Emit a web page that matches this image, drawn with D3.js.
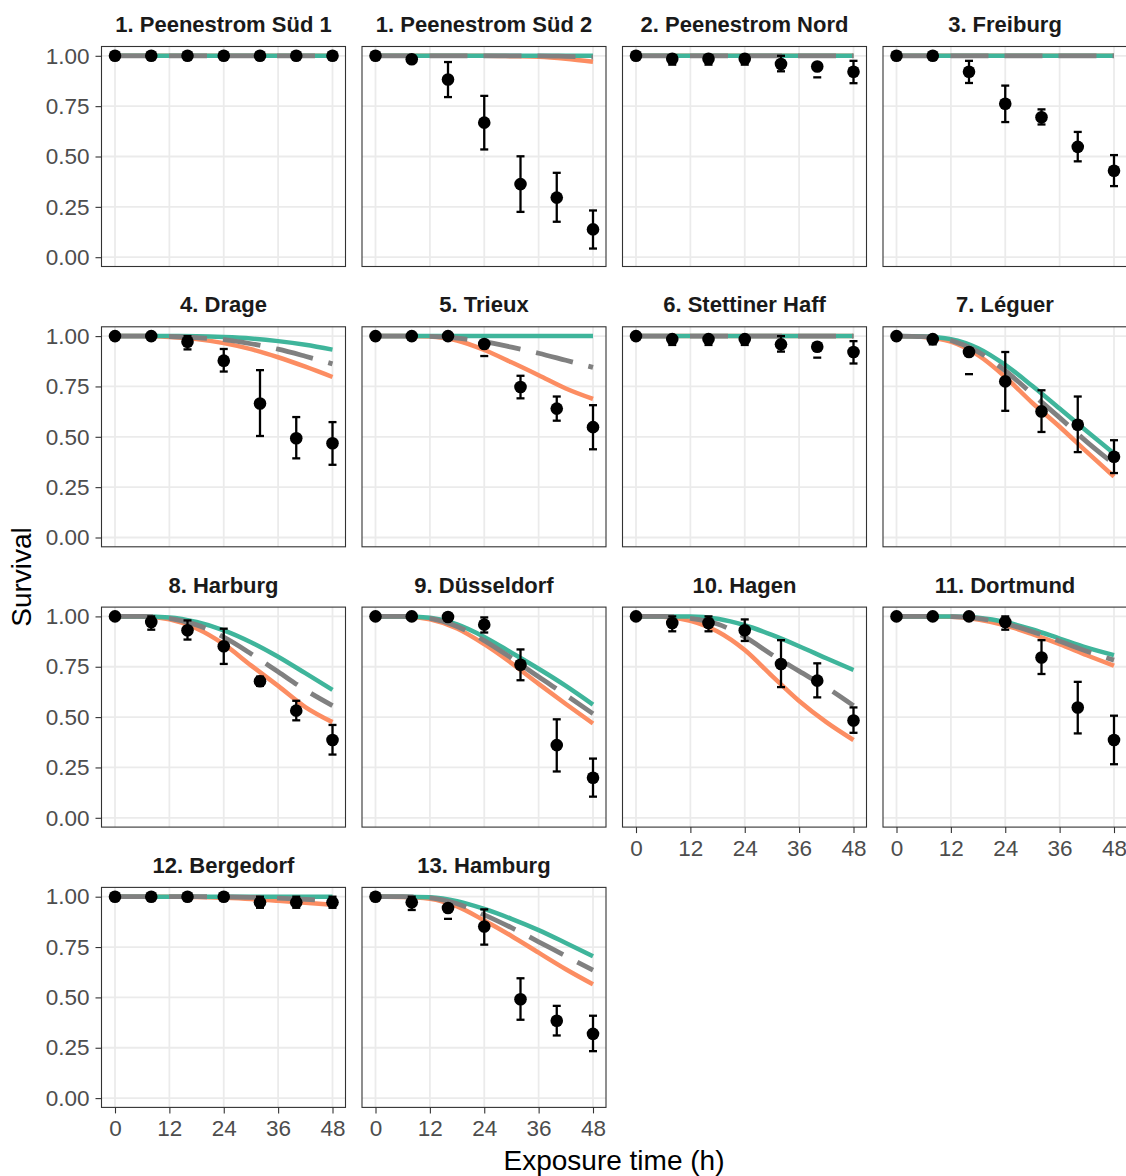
<!DOCTYPE html>
<html>
<head>
<meta charset="utf-8">
<script src="https://cdn.jsdelivr.net/npm/d3@7"></script>
<style>
  body { margin: 0; background: #fff; }
  svg { font-family: 'Liberation Sans', Arial, sans-serif; }
</style>
</head>
<body>
<svg width="1126" height="1176"></svg>
<script>
const panels = [
  '1. Peenestrom Süd 1', '1. Peenestrom Süd 2', '2. Peenestrom Nord', '3. Freiburg',
  '4. Drage', '5. Trieux', '6. Stettiner Haff', '7. Léguer',
  '8. Harburg', '9. Düsseldorf', '10. Hagen', '11. Dortmund',
  '12. Bergedorf', '13. Hamburg'
];

// observed survival (mean, lower, upper) at each sampling time
const times = [0, 8, 16, 24, 32, 40, 48];

const meanSurv = [
  [1, 1, 1, 1, 1, 1, 1],
  [1, 0.983, 0.882, 0.668, 0.363, 0.296, 0.138],
  [1, 0.985, 0.985, 0.985, 0.959, 0.947, 0.921],
  [1, 1, 0.921, 0.762, 0.695, 0.548, 0.429],
  [1, 1, 0.972, 0.878, 0.665, 0.493, 0.468],
  [1, 1, 1, 0.961, 0.747, 0.640, 0.548],
  [1, 0.985, 0.985, 0.985, 0.959, 0.947, 0.921],
  [1, 0.985, 0.921, 0.775, 0.626, 0.560, 0.401],
  [1, 0.972, 0.931, 0.852, 0.678, 0.532, 0.386],
  [1, 1, 0.997, 0.959, 0.760, 0.361, 0.199],
  [1, 0.967, 0.967, 0.931, 0.764, 0.681, 0.483],
  [1, 1, 1, 0.972, 0.796, 0.548, 0.386],
  [1, 1, 1, 1, 0.972, 0.972, 0.972],
  [1, 0.972, 0.944, 0.852, 0.491, 0.384, 0.319]
];

const lowSurv = [
  [null, null, null, null, null, null, null],
  [null, 0.965, 0.795, 0.535, 0.225, 0.176, 0.043],
  [null, 0.956, 0.956, 0.956, 0.923, 0.893, 0.864],
  [null, null, 0.865, 0.671, 0.659, 0.476, 0.353],
  [null, null, 0.934, 0.824, 0.504, 0.393, 0.361],
  [null, null, null, 0.901, 0.691, 0.580, 0.438],
  [null, 0.956, 0.956, 0.956, 0.923, 0.893, 0.864],
  [null, 0.959, 0.811, 0.629, 0.524, 0.424, 0.320],
  [null, 0.934, 0.885, 0.764, 0.655, 0.484, 0.314],
  [null, null, null, 0.920, 0.683, 0.230, 0.105],
  [null, 0.926, 0.926, 0.878, 0.649, 0.598, 0.422],
  [null, null, null, 0.934, 0.714, 0.419, 0.266],
  [null, null, null, null, 0.945, 0.945, 0.945],
  [null, 0.934, 0.890, 0.762, 0.389, 0.311, 0.233]
];

// null upper with a lower value -> only the lower cap shows
const highSurv = [
  [null, null, null, null, null, null, null],
  [null, 1, 0.969, 0.801, 0.501, 0.419, 0.232],
  [null, 1, 1, 1, 1, null, 0.975],
  [null, null, 0.975, 0.852, 0.734, 0.622, 0.507],
  [null, null, 1, 0.936, 0.831, 0.598, 0.573],
  [null, null, null, null, 0.803, 0.700, 0.657],
  [null, 1, 1, 1, 1, null, 0.975],
  [null, 1, null, 0.921, 0.731, 0.700, 0.483],
  [null, 1, 0.980, 0.939, 0.701, 0.581, 0.461],
  [null, null, null, 0.995, 0.836, 0.489, 0.294],
  [null, 1, 1, 0.985, 0.882, 0.767, 0.548],
  [null, null, null, 1, 0.882, 0.675, 0.507],
  [null, null, null, null, 1, 1, 1],
  [null, 1, null, 0.937, 0.595, 0.458, 0.409]
];

// model predictions
const curveTimes = [0, 6, 12, 18, 24, 30, 36, 42, 48];
const ones = [1, 1, 1, 1, 1, 1, 1, 1, 1];

const fitHigh = [
  ones, ones, ones, ones,
  [1, 1, 1, 0.999, 0.995, 0.988, 0.975, 0.957, 0.933],
  ones, ones,
  [1, 0.998, 0.985, 0.940, 0.857, 0.752, 0.640, 0.528, 0.417],
  [1, 1, 0.995, 0.972, 0.931, 0.872, 0.800, 0.718, 0.635],
  [1, 1, 0.993, 0.960, 0.898, 0.820, 0.740, 0.655, 0.562],
  [1, 1, 1, 0.988, 0.956, 0.908, 0.852, 0.792, 0.734],
  [1, 1, 1, 0.993, 0.972, 0.935, 0.890, 0.845, 0.808],
  ones,
  [1, 1, 0.997, 0.978, 0.939, 0.890, 0.834, 0.770, 0.704]
];

const fitMid = [
  ones,
  [1, 1, 1, 1, 1, 1, 1, 0.997, 0.993],
  ones, ones,
  [1, 1, 0.998, 0.992, 0.982, 0.962, 0.935, 0.900, 0.862],
  [1, 1, 0.999, 0.990, 0.972, 0.945, 0.915, 0.880, 0.845],
  ones,
  [1, 0.997, 0.978, 0.922, 0.828, 0.712, 0.595, 0.475, 0.365],
  [1, 1, 0.990, 0.958, 0.897, 0.815, 0.725, 0.635, 0.557],
  [1, 1, 0.990, 0.950, 0.880, 0.793, 0.700, 0.610, 0.517],
  [1, 1, 0.990, 0.962, 0.898, 0.810, 0.728, 0.648, 0.557],
  [1, 1, 0.999, 0.990, 0.964, 0.924, 0.877, 0.827, 0.783],
  [1, 1, 1, 1, 0.999, 0.997, 0.993, 0.987, 0.980],
  [1, 1, 0.994, 0.965, 0.910, 0.846, 0.776, 0.705, 0.635]
];

const fitLow = [
  ones,
  [1, 1, 1, 1, 1, 0.998, 0.995, 0.985, 0.970],
  ones, ones,
  [1, 1, 0.995, 0.985, 0.965, 0.935, 0.895, 0.848, 0.797],
  [1, 1, 0.998, 0.978, 0.931, 0.870, 0.806, 0.740, 0.688],
  ones,
  [1, 0.996, 0.972, 0.905, 0.797, 0.668, 0.550, 0.425, 0.302],
  [1, 0.999, 0.985, 0.940, 0.862, 0.757, 0.655, 0.550, 0.475],
  [1, 0.999, 0.985, 0.940, 0.862, 0.768, 0.665, 0.565, 0.468],
  [1, 0.998, 0.978, 0.925, 0.833, 0.705, 0.580, 0.475, 0.386],
  [1, 1, 0.998, 0.985, 0.956, 0.912, 0.862, 0.807, 0.755],
  [1, 1, 1, 0.999, 0.995, 0.989, 0.980, 0.970, 0.960],
  [1, 0.999, 0.990, 0.952, 0.882, 0.805, 0.722, 0.640, 0.565]
];

const xTicks = [0, 12, 24, 36, 48];
const yTicks = [0, 0.25, 0.5, 0.75, 1];

const svg = d3.select('svg'),
      panelW = 244,
      panelH = 220,
      colX = c => 101.5 + c * 260.5,
      rowY = r => 46.5 + r * 280.3;

const x = d3.scaleLinear().domain([0, 48]).range([13.5, panelW - 13]);
const y = d3.scaleLinear().domain([0, 1]).range([panelH - 9.3, 9.3]);

const line = d3.line()
  .x(d => x(d.t))
  .y(d => y(d.s))
  .curve(d3.curveMonotoneX);

const curveData = arr => arr.map((s, i) => ({t: curveTimes[i], s: s}));

panels.forEach((name, i) => {
  const col = i % 4, row = Math.floor(i / 4);
  const g = svg.append('g').attr('transform', `translate(${colX(col)}, ${rowY(row)})`);

  // strip title
  g.append('text')
    .attr('x', panelW / 2)
    .attr('y', -14.5)
    .attr('text-anchor', 'middle')
    .attr('font-size', 22)
    .attr('font-weight', 'bold')
    .attr('fill', '#1a1a1a')
    .text(name);

  g.append('rect')
    .attr('width', panelW)
    .attr('height', panelH)
    .attr('fill', '#fff');

  // grid
  g.append('g').selectAll('line')
    .data(xTicks)
    .enter().append('line')
      .attr('x1', d => x(d)).attr('x2', d => x(d))
      .attr('y1', 0).attr('y2', panelH)
      .attr('stroke', '#ebebeb').attr('stroke-width', 1.8);
  g.append('g').selectAll('line')
    .data(yTicks)
    .enter().append('line')
      .attr('y1', d => y(d)).attr('y2', d => y(d))
      .attr('x1', 0).attr('x2', panelW)
      .attr('stroke', '#ebebeb').attr('stroke-width', 1.8);

  // model curves
  g.append('path')
    .datum(curveData(fitLow[i]))
    .attr('fill', 'none')
    .attr('stroke', '#fc8d62')
    .attr('stroke-width', 4.5)
    .attr('d', line);
  g.append('path')
    .datum(curveData(fitHigh[i]))
    .attr('fill', 'none')
    .attr('stroke', '#3fb59b')
    .attr('stroke-width', 4.5)
    .attr('d', line);
  g.append('path')
    .datum(curveData(fitMid[i]))
    .attr('fill', 'none')
    .attr('stroke', '#808080')
    .attr('stroke-width', 4.8)
    .attr('stroke-dasharray', '38,16')
    .attr('d', line);

  // error bars
  const obs = times.map((t, k) => ({t: t, m: meanSurv[i][k], lo: lowSurv[i][k], hi: highSurv[i][k]}));
  const bars = g.append('g')
    .attr('stroke', '#000')
    .attr('stroke-width', 2.3);
  obs.filter(d => d.lo !== null).forEach(d => {
    const cx = x(d.t);
    if (d.hi !== null) {
      bars.append('line')
        .attr('x1', cx).attr('x2', cx)
        .attr('y1', y(d.lo)).attr('y2', y(d.hi));
      bars.append('line')
        .attr('x1', cx - 4).attr('x2', cx + 4)
        .attr('y1', y(d.hi)).attr('y2', y(d.hi));
    }
    bars.append('line')
      .attr('x1', cx - 4).attr('x2', cx + 4)
      .attr('y1', y(d.lo)).attr('y2', y(d.lo));
  });

  // points
  g.append('g').selectAll('circle')
    .data(obs)
    .enter().append('circle')
      .attr('cx', d => x(d.t))
      .attr('cy', d => y(d.m))
      .attr('r', 6.3)
      .attr('fill', '#000');

  g.append('rect')
    .attr('width', panelW)
    .attr('height', panelH)
    .attr('fill', 'none')
    .attr('stroke', '#333')
    .attr('stroke-width', 1.1);

  if (col === 0) {
    const ay = g.append('g')
      .call(d3.axisLeft(y).tickValues(yTicks).tickFormat(d3.format('.2f')).tickSize(6).tickPadding(6));
    ay.select('.domain').remove();
    ay.selectAll('line').attr('stroke', '#333').attr('stroke-width', 1.1);
    ay.selectAll('text').attr('font-size', 22.5).attr('fill', '#4d4d4d');
    ay.attr('font-family', null).attr('font-size', null);
  }
  if (i >= 10) {
    const ax = g.append('g')
      .attr('transform', `translate(0, ${panelH})`)
      .call(d3.axisBottom(x).tickValues(xTicks).tickSize(6).tickPadding(7));
    ax.select('.domain').remove();
    ax.selectAll('line').attr('stroke', '#333').attr('stroke-width', 1.1);
    ax.selectAll('text').attr('font-size', 22.5).attr('fill', '#4d4d4d');
    ax.attr('font-family', null).attr('font-size', null);
  }
});

svg.append('text')
  .attr('transform', 'translate(31, 577) rotate(-90)')
  .attr('text-anchor', 'middle')
  .attr('font-size', 28)
  .attr('fill', '#000')
  .text('Survival');

svg.append('text')
  .attr('x', 614)
  .attr('y', 1170)
  .attr('text-anchor', 'middle')
  .attr('font-size', 28)
  .attr('fill', '#000')
  .text('Exposure time (h)');
</script>
</body>
</html>
